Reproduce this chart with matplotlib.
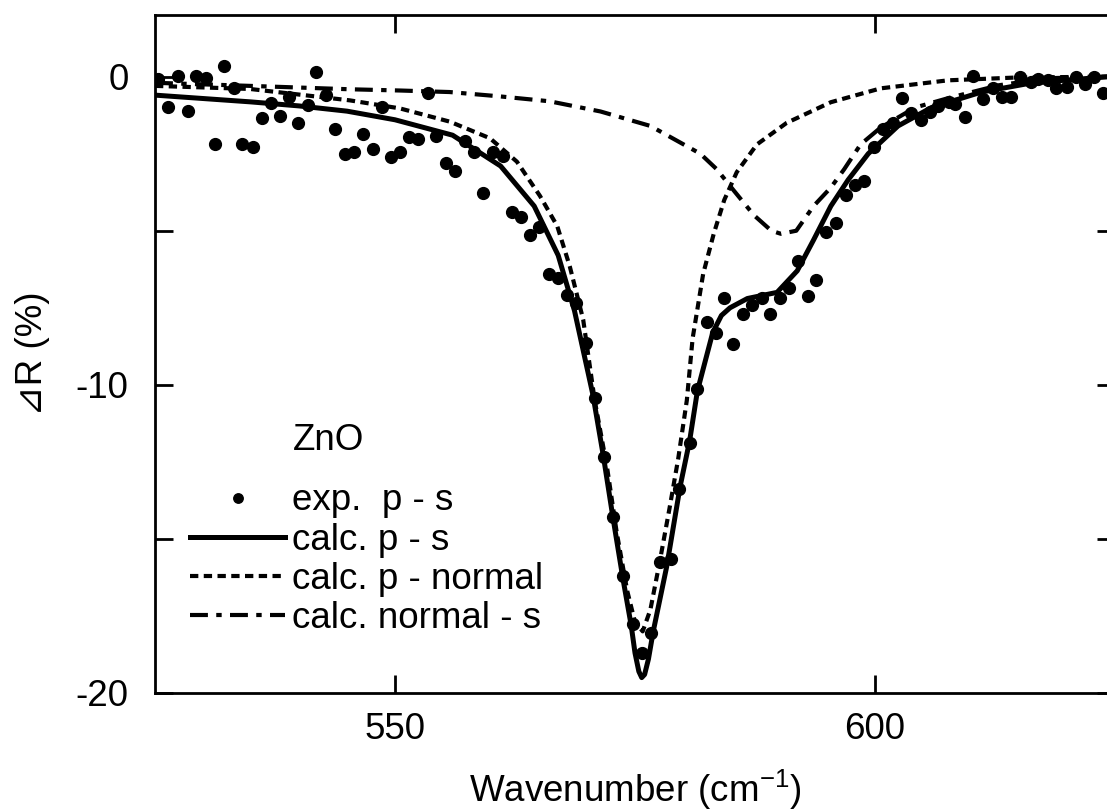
import matplotlib
matplotlib.use('Agg')
import matplotlib.pyplot as plt

plt.rcParams['font.family'] = ['Liberation Sans', 'DejaVu Sans']
plt.rcParams['font.size'] = 26.5
plt.rcParams['mathtext.fontset'] = 'custom'
plt.rcParams['mathtext.rm'] = 'Liberation Sans'
plt.rcParams['mathtext.it'] = 'Liberation Sans:italic'

exp_x = [525.3, 526.4, 527.4, 528.4, 529.3, 530.3, 531.3, 532.2, 533.2, 534.1,
         535.2, 536.1, 537.1, 538.0, 539.0, 539.9, 540.9, 541.8, 542.8, 543.8,
         544.8, 545.7, 546.7, 547.7, 548.6, 549.6, 550.5, 551.5, 552.4, 553.4,
         554.3, 555.3, 556.3, 557.3, 558.2, 559.2, 560.2, 561.2, 562.2, 563.1,
         564.1, 565.0, 566.0, 567.0, 567.9, 568.9, 569.9, 570.8, 571.8, 572.7,
         573.7, 574.8, 575.7, 576.7, 577.6, 578.7, 579.6, 580.7, 581.5, 582.5,
         583.4, 584.3, 585.2, 586.2, 587.2, 588.2, 589.1, 590.1, 591.0, 592.0,
         593.0, 593.9, 594.9, 595.9, 597.0, 597.9, 598.9, 599.9, 600.8, 601.9,
         602.8, 603.8, 604.8, 605.7, 606.6, 607.7, 608.3, 609.4, 610.2, 611.3,
         612.3, 613.2, 614.2, 615.1, 616.2, 617.0, 618.0, 618.9, 620.0, 620.9,
         621.9, 622.8, 623.8]
exp_y = [-0.09, -0.98, 0.03, -1.12, 0.03, -0.03, -2.17, 0.33, -0.38, -2.17,
         -2.28, -1.34, -0.87, -1.28, -0.65, -1.52, -0.93, 0.16, -0.60, -1.71,
         -2.50, -2.45, -1.85, -2.34, -0.98, -2.61, -2.45, -1.96, -2.01, -0.54,
         -1.92, -2.80, -3.05, -2.10, -2.45, -3.78, -2.43, -2.56, -4.40, -4.55,
         -5.14, -4.89, -6.41, -6.55, -7.07, -7.34, -8.64, -10.43, -12.34, -14.29,
         -16.20, -17.77, -18.70, -18.04, -15.76, -15.65, -13.37, -11.88, -10.14, -7.97,
         -8.31, -7.17, -8.67, -7.69, -7.40, -7.19, -7.71, -7.19, -6.87, -5.98,
         -7.13, -6.60, -5.03, -4.76, -3.84, -3.51, -3.38, -2.27, -1.69, -1.49,
         -0.70, -1.18, -1.41, -1.16, -0.94, -0.83, -0.90, -1.30, 0.03, -0.73,
         -0.36, -0.67, -0.67, -0.02, -0.16, -0.09, -0.11, -0.38, -0.33, -0.02,
         -0.25, -0.02, -0.52]

# calc. p - s
ps_x = [525.0, 535.0, 540.0, 545.0, 550.0, 556.0, 561.0, 564.5, 567.0, 568.7,
        570.6, 571.7, 572.7, 573.75, 574.6, 575.0, 575.4, 575.7, 576.0, 576.4,
        576.9, 578.3, 579.7, 580.7, 581.5, 583.1, 584.0, 584.9, 586.7, 589.8,
        591.9, 593.6, 595.4, 597.2, 599.3, 602.4, 605.9, 611.1, 616.4, 624.5]
ps_y = [-0.6, -0.82, -0.95, -1.12, -1.4, -1.9, -2.9, -4.2, -5.8, -7.6,
        -10.3, -12.3, -14.3, -16.3, -17.8, -18.7, -19.3, -19.5, -19.4, -18.9,
        -18.0, -15.9, -13.3, -11.8, -10.2, -8.3, -7.75, -7.5, -7.2, -7.0,
        -6.3, -5.3, -4.2, -3.35, -2.5, -1.6, -1.0, -0.5, -0.2, 0.0]

# calc. p - normal
pn_x = [525.0, 534.9, 545.3, 550.5, 555.7, 559.9, 562.7, 565.1, 566.9, 568.2,
        569.6, 570.8, 572.1, 573.1, 574.2, 575.0, 575.8, 576.6, 577.6, 578.6,
        579.5, 580.4, 581.0, 582.1, 583.2, 584.3, 585.6, 587.7, 590.8, 595.4,
        600.6, 607.6, 614.6, 624.5]
pn_y = [-0.3, -0.4, -0.77, -1.03, -1.46, -2.0, -2.76, -3.87, -4.85, -6.15,
        -7.88, -10.5, -12.7, -14.8, -16.7, -17.7, -18.0, -17.3, -15.7, -14.0,
        -12.4, -10.5, -8.5, -6.4, -5.1, -4.0, -3.1, -2.2, -1.5, -0.83,
        -0.38, -0.12, -0.03, 0.0]

# calc. normal - s
ns_x = [525.0, 534.9, 545.3, 550.5, 555.7, 560.9, 566.1, 571.4, 576.6, 581.8,
        583.5, 585.3, 587.4, 589.2, 590.2, 591.8, 593.6, 595.4, 596.8, 598.5,
        600.6, 604.2, 607.6, 612.9, 618.1, 624.5]
ns_y = [-0.2, -0.3, -0.41, -0.45, -0.5, -0.64, -0.8, -1.13, -1.6, -2.5,
        -3.0, -3.7, -4.5, -5.0, -5.1, -5.0, -4.2, -3.6, -3.0, -2.2,
        -1.65, -1.0, -0.7, -0.28, -0.05, 0.0]

fig = plt.figure(figsize=(11.07, 8.10), dpi=100)
ax = fig.add_axes([155 / 1107, 117 / 810, 960 / 1107, 678 / 810])

ax.plot(exp_x, exp_y, 'o', color='black', markersize=8.5, label='exp.  p - s', zorder=4)
ax.plot(ps_x, ps_y, '-', color='black', lw=3.6, label='calc. p - s', zorder=3)
ax.plot(pn_x, pn_y, color='black', lw=3, linestyle=(0, (2.0, 1.3)), label='calc. p - normal')
ax.plot(ns_x, ns_y, color='black', lw=3, linestyle=(0, (4.3, 2.0, 1.3, 2.0)), label='calc. normal - s')

ax.set_xlim(525, 625)
ax.set_ylim(-20, 2)
ax.set_xticks([550, 600])
ax.set_yticks([0, -5, -10, -15, -20])
ax.set_yticklabels(['0', '', '-10', '', '-20'])
ax.tick_params(direction='in', length=13, width=2, top=True, right=True)
ax.tick_params(axis='y', pad=19)
ax.tick_params(axis='x', pad=14)
for s in ax.spines.values():
    s.set_linewidth(2)

ax.set_xlabel('Wavenumber (cm$^{-1}$)')
ax.xaxis.set_label_coords(0.5, -0.1106)
ax.set_ylabel('\u22bfR (%)')
ax.yaxis.set_label_coords(-0.109, 0.5)

ax.text(0.1438, 0.3584, 'ZnO', transform=ax.transAxes, va='baseline', ha='left')
ax.legend(loc='upper left', bbox_to_anchor=(0.0365, 0.309), frameon=False,
          borderpad=0, borderaxespad=0, labelspacing=0.115, handlelength=2.58,
          handletextpad=0.2, markerscale=0.8, fontsize=26.5)

fig.savefig('out.png', dpi=100)
